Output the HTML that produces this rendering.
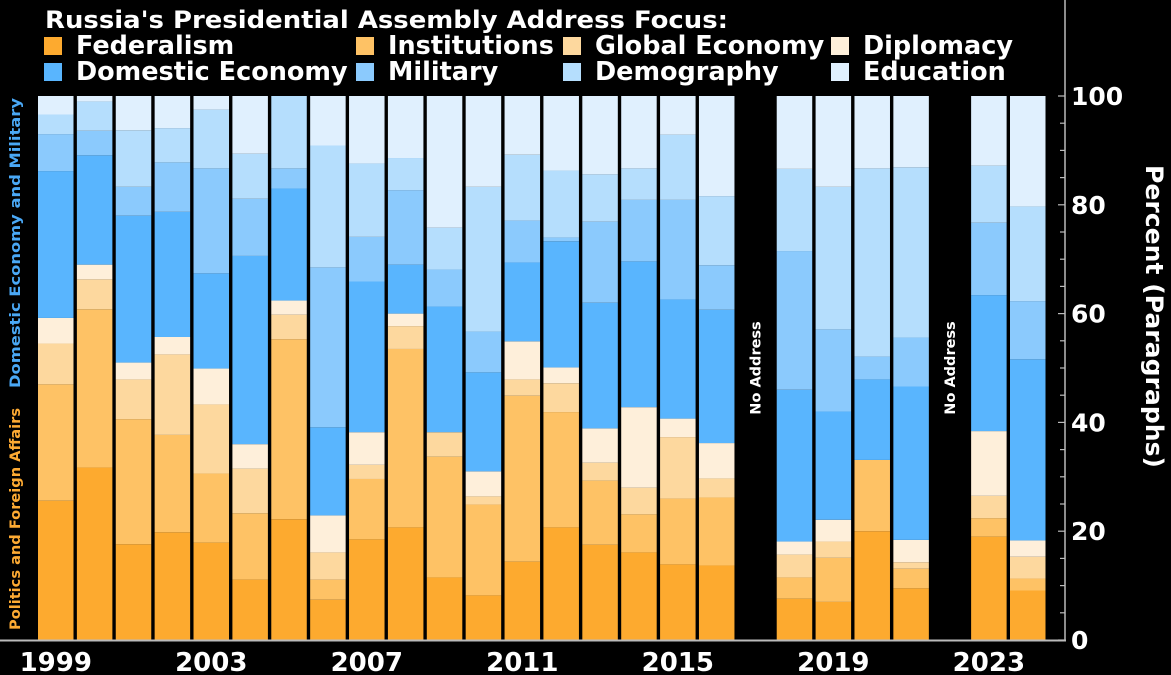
<!DOCTYPE html>
<html><head><meta charset="utf-8">
<style>
html,body{margin:0;padding:0;background:#000;}
svg{display:block;font-family:"DejaVu Sans","Liberation Sans",sans-serif;font-weight:bold;}
</style></head>
<body>
<svg id="chart" width="1171" height="675" viewBox="0 0 1171 675">
<rect x="0" y="0" width="1171" height="675" fill="#000"/>
<text x="45" y="28" font-size="24" fill="#fff" textLength="683" lengthAdjust="spacingAndGlyphs">Russia's Presidential Assembly Address Focus:</text>
<g id="legend"></g>
<g id="bars"></g>
<g id="axes"></g>
<text transform="translate(20,630) rotate(-90)" font-size="14.5" fill="#fdaa33" textLength="222" lengthAdjust="spacingAndGlyphs">Politics and Foreign Affairs</text>
<text transform="translate(20,388) rotate(-90)" font-size="14.5" fill="#4aa8f5" textLength="290" lengthAdjust="spacingAndGlyphs">Domestic Economy and Military</text>
<text transform="translate(1146,165) rotate(90)" font-size="24" fill="#fff" textLength="303" lengthAdjust="spacingAndGlyphs">Percent (Paragraphs)</text>
</svg>
<script>
const years = [1999,2000,2001,2002,2003,2004,2005,2006,2007,2008,2009,2010,2011,2012,2013,2014,2015,2016,2017,2018,2019,2020,2021,2022,2023,2024];
const seriesNames = ["Federalism","Institutions","Global Economy","Diplomacy","Domestic Economy","Military","Demography","Education"];
const federalism =      [25.6,31.7,17.6,19.8,17.9,11.1,22.2,7.4,18.5,20.7,11.5,8.2,14.4,20.7,17.5,16.1,13.9,13.7,null,7.6,7.0,20.0,9.5,null,19.0,9.1];
const institutions =    [21.4,29.1,23.0,17.9,12.7,12.2,33.1,3.7,11.1,32.8,22.2,16.7,30.5,21.2,11.8,7.0,12.1,12.5,null,3.9,8.1,13.1,3.6,null,3.4,2.2];
const globalEconomy =   [7.5,5.5,7.3,14.8,12.7,8.2,4.5,5.0,2.6,4.2,4.5,1.5,3.0,5.3,3.3,4.9,11.3,3.5,null,4.2,3.0,0,1.2,null,4.1,4.0];
const diplomacy =       [4.7,2.7,3.1,3.2,6.6,4.5,2.6,6.8,6.0,2.3,0,4.6,7.0,2.9,6.3,14.8,3.4,6.5,null,2.4,4.0,0,4.1,null,11.9,3.0];
const domesticEconomy = [27.0,20.1,27.0,23.0,17.5,34.6,20.6,16.2,27.7,9.0,23.1,18.2,14.5,23.2,23.1,26.8,21.9,24.5,null,27.9,19.9,14.8,28.2,null,25.0,33.3];
const military =        [6.8,4.5,5.3,9.1,19.3,10.5,3.7,29.4,8.2,13.7,6.8,7.5,7.7,0.7,14.9,11.3,18.3,8.2,null,25.5,15.1,4.2,9.0,null,13.3,10.7];
const demography =      [3.6,5.4,10.4,6.3,10.8,8.3,13.3,22.4,13.5,5.9,7.7,26.6,12.1,12.3,8.7,5.8,12.0,12.7,null,15.1,26.2,34.6,31.3,null,10.5,17.4];
const education =       [3.4,1.0,6.3,5.9,2.5,10.6,0,9.1,12.4,11.4,24.2,16.7,10.8,13.7,14.4,13.3,7.1,18.4,null,13.4,16.7,13.3,13.1,null,12.8,20.3];
const yTicks = [0,20,40,60,80,100];
const xTickYears = [1999,2003,2007,2011,2015,2019,2023];

const colors = ["#fdaa2f","#fec265","#fdd89e","#feefda","#59b5fe","#8bcafd","#b5defd","#e0f0fe"];
const series = [federalism,institutions,globalEconomy,diplomacy,domesticEconomy,military,demography,education];
const NS = "http://www.w3.org/2000/svg";
const x0 = 38, step = 38.88, bw = 35.5, yTop = 96, yBot = 640;
function xPos(i){ return x0 + i*step; }
function yPos(v){ return yBot - (v/100)*(yBot-yTop); }
function mk(tag, attrs, parent){ const e=document.createElementNS(NS,tag); for(const k in attrs) e.setAttribute(k,attrs[k]); parent.appendChild(e); return e; }

const bars = document.getElementById('bars');
years.forEach((yr,i)=>{
  if (federalism[i] === null) {
    const t = mk('text',{transform:`translate(${xPos(i)+bw/2+5},${368}) rotate(-90)`,'font-size':'14.5',fill:'#fff','text-anchor':'middle'},bars);
    t.textContent = 'No Address';
    
    
    return;
  }
  let cum = 0;
  series.forEach((s,k)=>{
    const v = s[i];
    if (!v) { return; }
    const r = mk('rect',{x:xPos(i),y:yPos(cum+v),width:bw,height:yPos(cum)-yPos(cum+v),fill:colors[k]},bars);
    
    
    cum += v;
  });
});

const axes = document.getElementById('axes');
const base = mk('line',{x1:0,x2:1066,y1:yBot+0.5,y2:yBot+0.5,stroke:'#bbb','stroke-width':2},axes);


const spine = mk('line',{x1:1065,x2:1065,y1:0,y2:yBot+1,stroke:'#bbb','stroke-width':1.5},axes);


for (let v=0; v<=100; v+=5){
  const big = v%20===0;
  const tk = mk('line',{x1:big?1058:1060,x2:1065,y1:yPos(v),y2:yPos(v),stroke:'#bbb','stroke-width':1.2},axes);
  
  
}
yTicks.forEach(v=>{
  const t = mk('text',{x:1071,y:yPos(v)+9,'font-size':'25',fill:'#fff'},axes);
  t.textContent = v;
  
  
});
xTickYears.forEach(yr=>{
  const i = years.indexOf(yr);
  const t = mk('text',{x:xPos(i)+bw/2,y:671,'font-size':'26',fill:'#fff','text-anchor':'middle'},axes);
  t.textContent = yr;
  
  
});

const legend = document.getElementById('legend');
const legX = [44,356,563,831];
seriesNames.forEach((n,k)=>{
  const col = k%4, row = Math.floor(k/4);
  const sq = mk('rect',{x:legX[col],y:37+row*26,width:18,height:18,fill:colors[k]},legend);
  
  
  const t = mk('text',{x:legX[col]+32,y:54+row*26,'font-size':'25.5',fill:'#fff'},legend);
  t.textContent = n;
  
  
});
</script>
</body></html>
